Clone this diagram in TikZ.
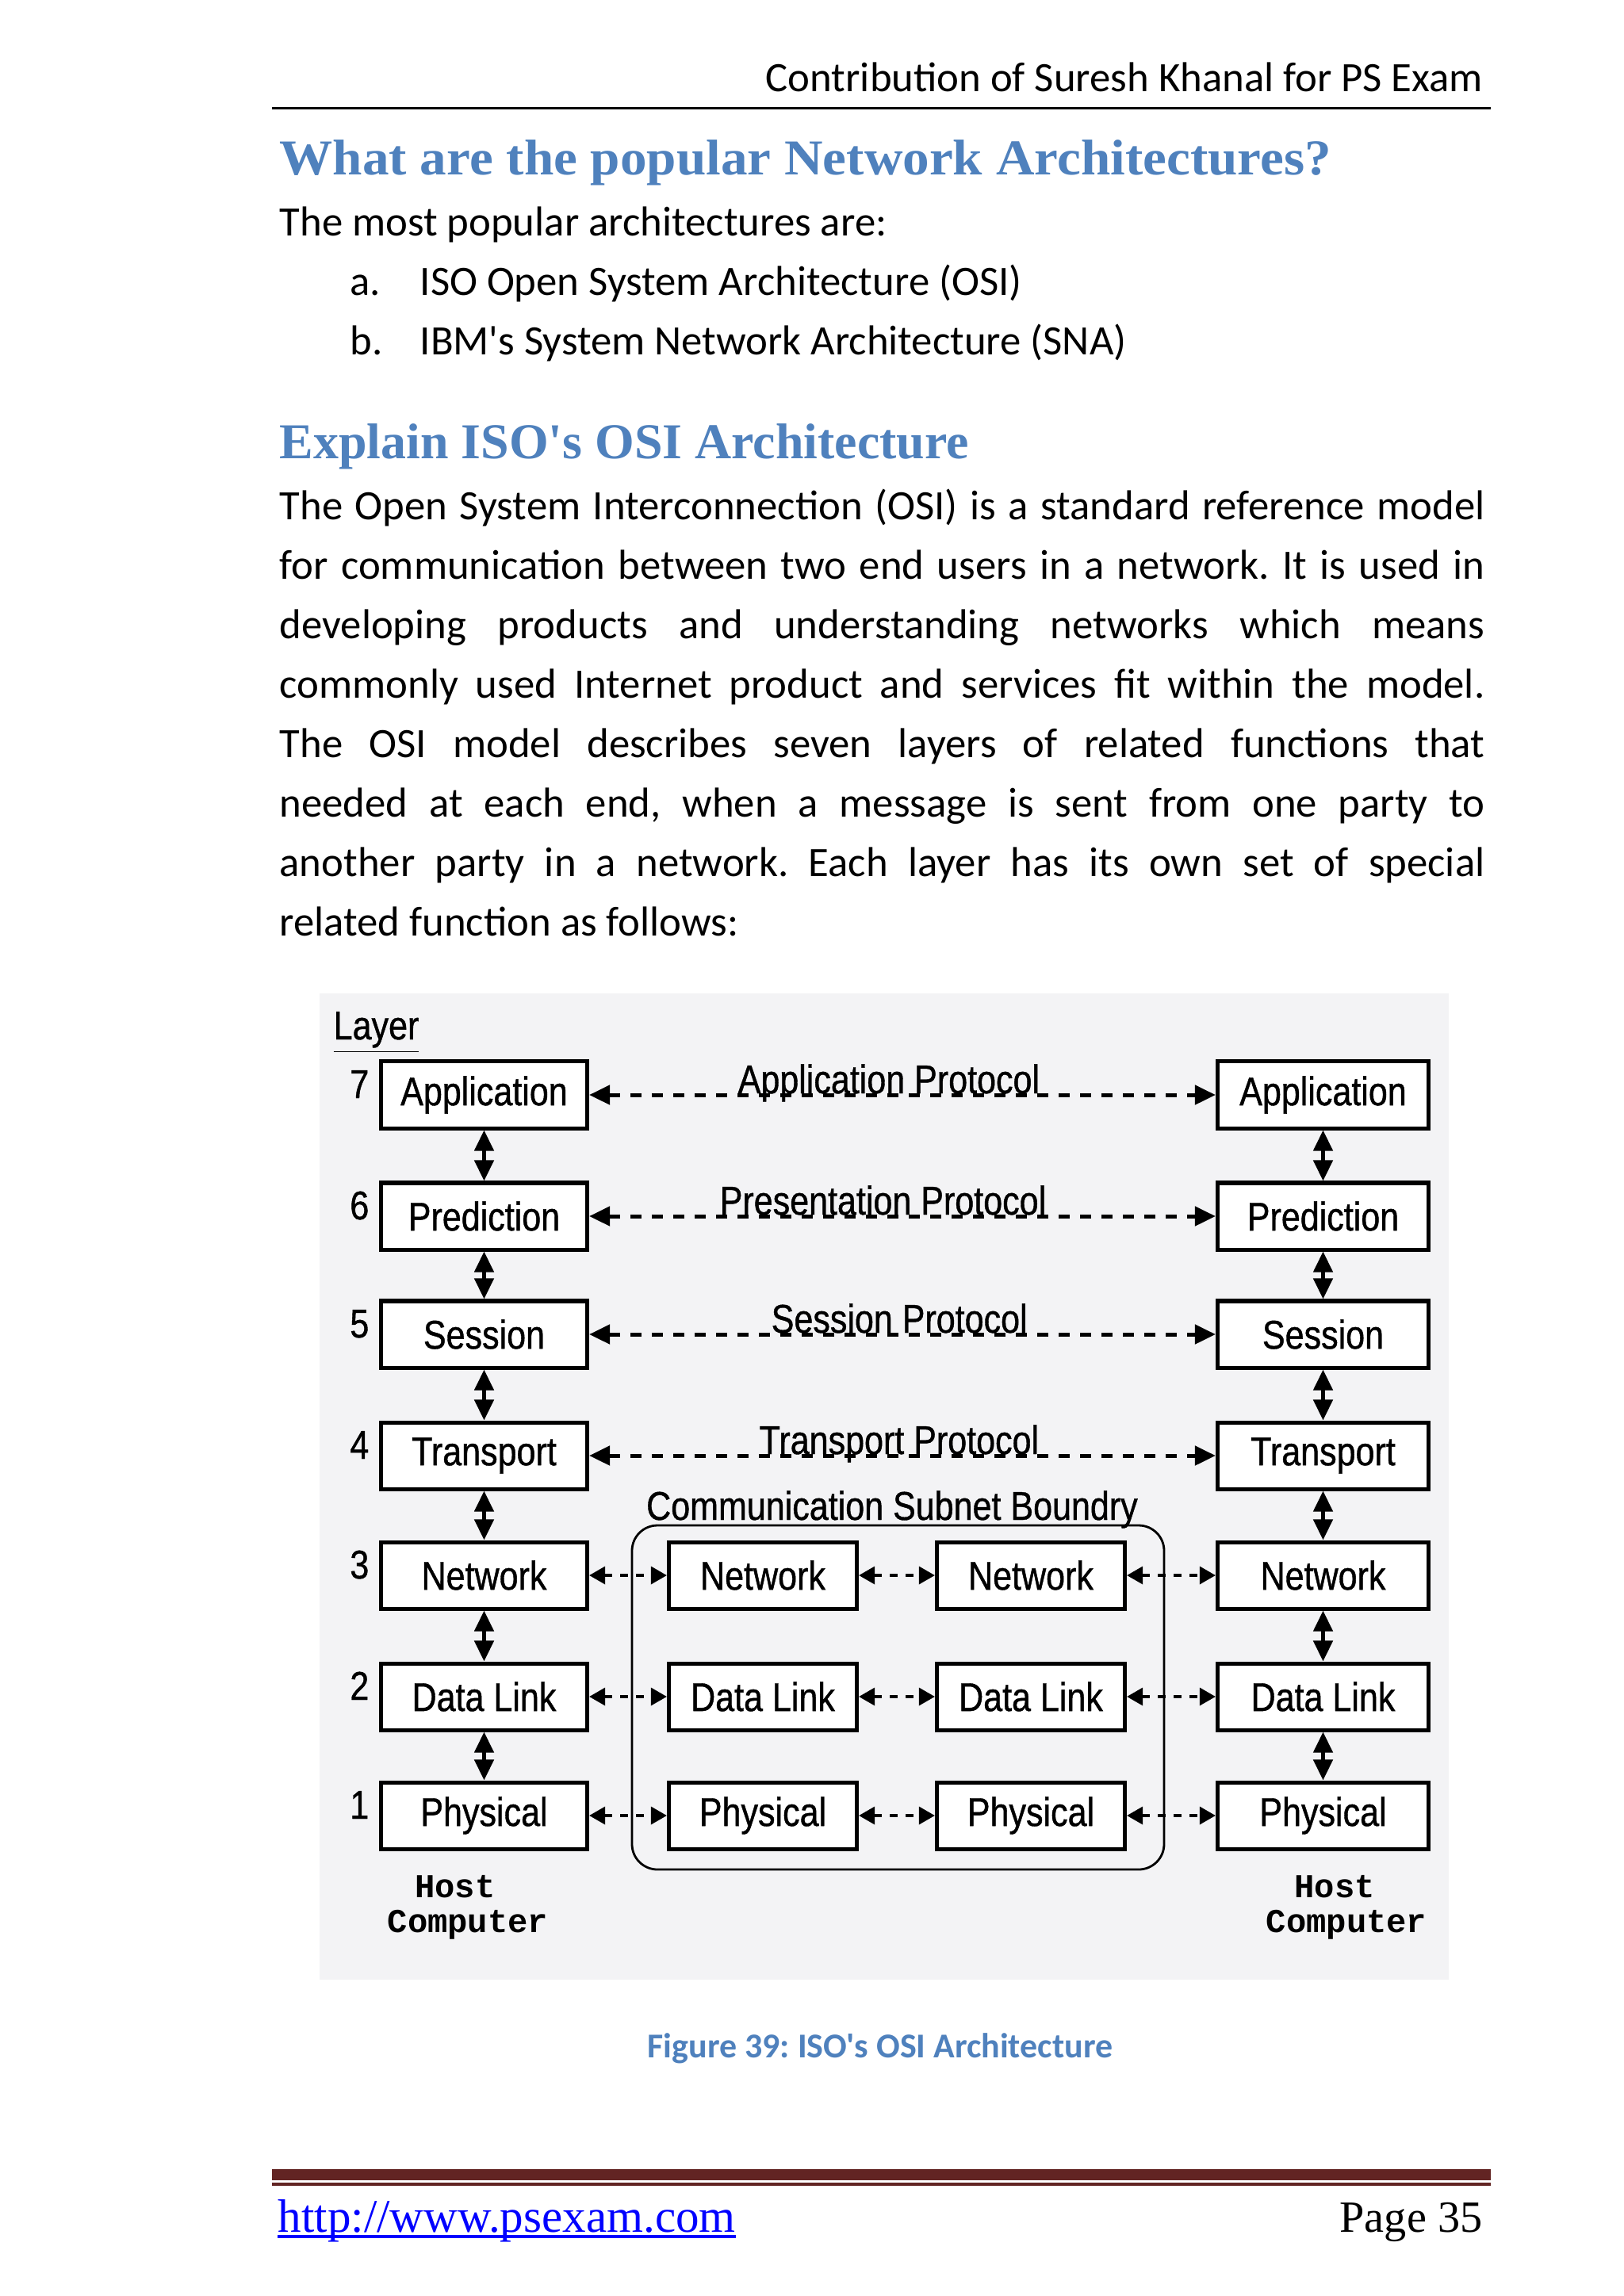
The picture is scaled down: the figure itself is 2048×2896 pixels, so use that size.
\documentclass[tikz,border=0pt]{standalone}
\usepackage{fontspec}
\setmainfont{Carlito}[Ligatures=TeXOff]
\newfontfamily\headfont{Liberation Serif}[FakeStretch=1.03,Ligatures=TeXOff]
\newfontfamily\footfont{Liberation Serif}
\newfontfamily\figfont{Liberation Sans}[FakeStretch=0.85,FakeBold=0.8]
\newfontfamily\hostfont{Liberation Mono}
\usetikzlibrary{arrows.meta}
\definecolor{headblue}{HTML}{4F81BD}
\definecolor{figgrey}{HTML}{F3F3F5}
\definecolor{footred}{HTML}{622423}
\definecolor{urlblue}{HTML}{0000FF}
\frenchspacing
\newcommand{\bodysize}{\fontsize{15}{21.3}\selectfont}
\newcommand{\figsize}{\fontsize{14.4}{17}\selectfont}
\newcommand{\hostlabel}[2]{%
  \node[hosttxt] at (#1,2393) {Host};
  \node[hosttxt] at (#2,2437) {Computer};}
\tikzset{
  pagetxt/.style={inner sep=0pt,font=\bodysize},
  headtxt/.style={inner sep=0pt,anchor=base west,text=headblue,
                  font=\headfont\bfseries\fontsize{18}{22}\selectfont},
  figtxt/.style={inner sep=0pt,font=\figfont\figsize},
  layerbox/.style={draw,fill=white,line width=0.05cm,minimum height=0.84cm,
                   inner sep=0pt,font=\figfont\figsize},
  hosttxt/.style={inner sep=0pt,anchor=base,font=\hostfont\bfseries\fontsize{12}{14}\selectfont},
  protline/.style={line width=0.05cm,dash pattern=on 0.14cm off 0.13cm,
                   {Triangle[length=0.26cm,width=0.24cm]}-{Triangle[length=0.26cm,width=0.24cm]}},
  hopline/.style={line width=0.035cm,dash pattern=on 0.1cm off 0.1cm,
                  {Triangle[length=0.2cm,width=0.22cm]}-{Triangle[length=0.2cm,width=0.22cm]}},
  stackline/.style={line width=0.045cm,
                    {Triangle[length=0.26cm,width=0.24cm]}-{Triangle[length=0.26cm,width=0.24cm]}},
}
\begin{document}
\begin{tikzpicture}[x=0.01cm,y=-0.01cm]
  \useasboundingbox (0,0) rectangle (2048,2896);
  \fill[white] (0,0) rectangle (2048,2896);
  % running head
  \node[pagetxt,anchor=base east] (runhead) at (1871,115) {Contribution of Suresh Khanal for PS Exam};
  \draw[line width=0.03cm] (343,136) -- (1880,136);
  % first question
  \node[headtxt] (q1) at (352,220) {\scalebox{1.03}[1]{What are the popular Network Architectures?}};
  \node[pagetxt,anchor=base west] (intro) at (352,297) {The most popular architectures are:};
  \node[pagetxt,anchor=base west] (ia) at (441,372) {a.};
  \node[pagetxt,anchor=base west] (ta) at (529,372) {ISO Open System Architecture (OSI)};
  \node[pagetxt,anchor=base west] (ib) at (441,447) {b.};
  \node[pagetxt,anchor=base west] (tb) at (529,447) {IBM's System Network Architecture (SNA)};
  % second question, justified line by line
  \node[headtxt] (q2) at (352,578) {\scalebox{0.98}[1]{Explain ISO's OSI Architecture}};
  \foreach \ln [count=\i from 0] in {%
      {The Open System Interconnection (OSI) is a standard reference model},
      {for communication between two end users in a network. It is used in},
      {developing products and understanding networks which means},
      {commonly used Internet product and services fit within the model.},
      {The OSI model describes seven layers of related functions that},
      {needed at each end, when a message is sent from one party to},
      {another party in a network. Each layer has its own set of special}}
    \node[pagetxt,anchor=base west] (par\i) at (352,655+75*\i) {\makebox[15.19cm][s]{\ln}};
  \node[pagetxt,anchor=base west] (par7) at (352,1180) {related function as follows:};

  % the figure
  \fill[figgrey] (403,1253) rectangle (1827,2497);
  \node[figtxt,anchor=base west] (layerhd) at (420,1311) {\underline{Layer}};
  \foreach \n/\name/\y in {7/Application/1381,6/Prediction/1534,5/Session/1683,
                           4/Transport/1836,3/Network/1987,2/Data Link/2140,1/Physical/2290}{
    \node[layerbox,minimum width=2.6cm] (lh\n) at (610.5,\y) {\name};
    \node[layerbox,minimum width=2.66cm] (rh\n) at (1668.5,\y) {\name};
    \node[figtxt,anchor=base east] (num\n) at (466,\y+4) {\n};
  }
  \foreach \n/\name/\y in {3/Network/1987,2/Data Link/2140,1/Physical/2290}{
    \node[layerbox,minimum width=2.37cm] (sa\n) at (962,\y) {\name};
    \node[layerbox,minimum width=2.37cm] (sb\n) at (1300,\y) {\name};
  }
  % peer protocols
  \foreach \n/\txt/\x/\y in {7/Application Protocol/930/1381,6/Presentation Protocol/907/1534,
                             5/Session Protocol/972/1683,4/Transport Protocol/957/1836}{
    \draw[protline] (lh\n.east) -- (rh\n.west);
    \node[figtxt,anchor=base west] (prot\n) at (\x,\y-2) {\txt};
  }
  % up and down the stacks
  \foreach \a/\b in {7/6,6/5,5/4,4/3,3/2,2/1}{
    \draw[stackline] (lh\a.south) -- (lh\b.north);
    \draw[stackline] (rh\a.south) -- (rh\b.north);
  }
  % subnet
  \draw[line width=0.028cm,rounded corners=0.32cm] (797,1924) rectangle (1468,2358);
  \node[figtxt,anchor=base] (subnet) at (1125,1917) {Communication Subnet Boundry};
  \foreach \n in {3,2,1}{
    \draw[hopline] (lh\n.east) -- (sa\n.west);
    \draw[hopline] (sa\n.east) -- (sb\n.west);
    \draw[hopline] (sb\n.east) -- (rh\n.west);
  }
  \hostlabel{574}{590}
  \hostlabel{1683}{1698}
  \node[inner sep=0pt,anchor=base,text=headblue,font=\bfseries\fontsize{12.5}{15}\selectfont]
    (caption) at (1110,2595) {Figure 39: ISO's OSI Architecture};

  % footer
  \fill[footred] (343,2736) rectangle (1880,2750);
  \fill[footred] (343,2753) rectangle (1880,2757);
  \node[inner sep=0pt,anchor=base west,text=urlblue,font=\footfont\fontsize{16.8}{19}\selectfont]
    (url) at (350,2815) {http://www.psexam.com};
  \draw[urlblue,line width=0.035cm] ([yshift=-0.06cm]url.base west) -- ([yshift=-0.06cm]url.base east);
  \node[inner sep=0pt,anchor=base east,font=\footfont\fontsize{16}{19}\selectfont]
    (pageno) at (1870,2815) {Page 35};
\end{tikzpicture}
\end{document}
